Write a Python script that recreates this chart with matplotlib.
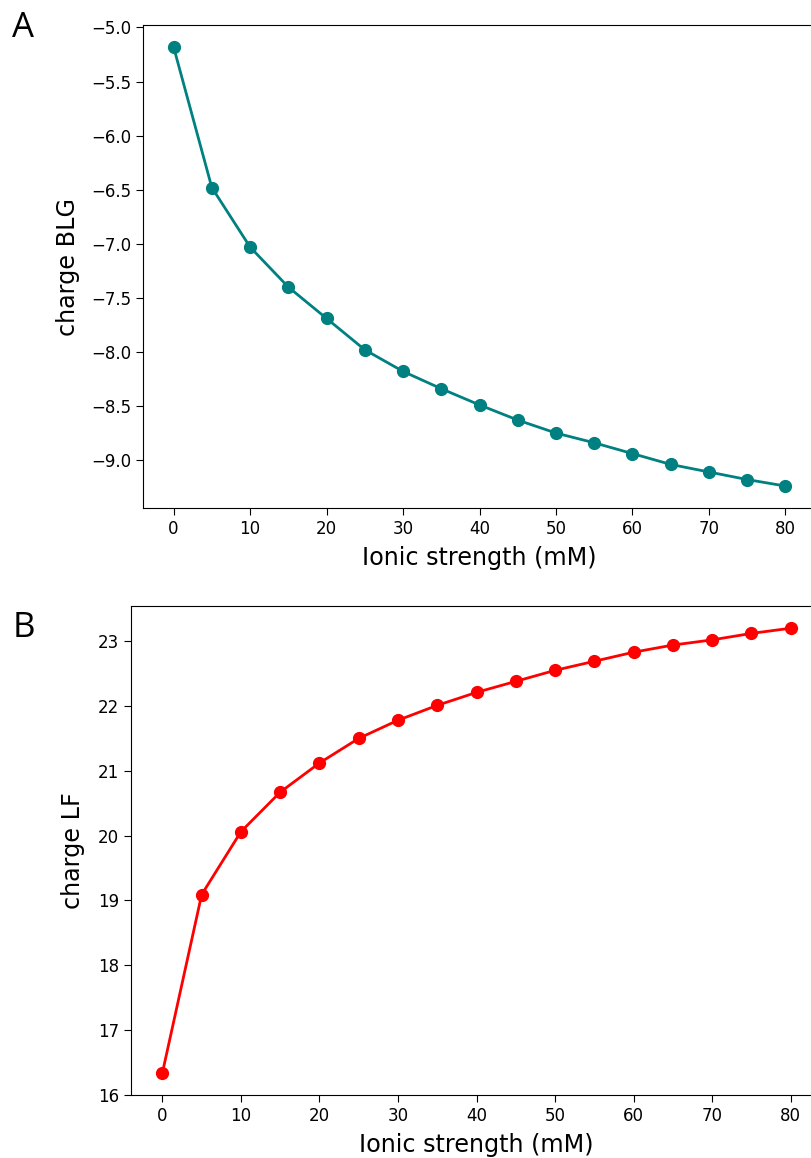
#!/usr/bin/env python3
"""Net charge of BLG and LF vs ionic strength (two stacked panels)."""

import matplotlib

matplotlib.use("Agg")
import matplotlib.pyplot as plt  # noqa: E402

IONIC = [0, 5, 10, 15, 20, 25, 30, 35, 40, 45, 50, 55, 60, 65, 70, 75, 80]
CHARGE_BLG = [-5.18, -6.48, -7.03, -7.40, -7.69, -7.98, -8.18, -8.34, -8.49,
              -8.63, -8.75, -8.84, -8.94, -9.04, -9.11, -9.18, -9.24]
CHARGE_LF = [16.34, 19.09, 20.06, 20.67, 21.12, 21.50, 21.78, 22.01, 22.21,
             22.38, 22.55, 22.69, 22.83, 22.94, 23.02, 23.12, 23.20]

W, H = 811, 1158


def box(left, top, right, bottom):
    return [left / W, (H - bottom) / H, (right - left) / W, (bottom - top) / H]


def main() -> None:
    fig = plt.figure(figsize=(W / 100, H / 100), dpi=100)
    ax_a = fig.add_axes(box(143, 25, 816, 508))
    ax_b = fig.add_axes(box(131, 606, 822, 1095))

    for ax, ys, color, ylabel, ypad in [(ax_a, CHARGE_BLG, "teal", "charge BLG", 8),
                                        (ax_b, CHARGE_LF, "red", "charge LF", 9.5)]:
        ax.plot(IONIC, ys, marker="o", color=color, ms=8.5, lw=2)
        ax.set_xlabel("Ionic strength (mM)", fontsize=17.2, labelpad=6)
        ax.set_ylabel(ylabel, fontsize=17.2, labelpad=ypad)
        ax.tick_params(labelsize=12, length=5)
        ax.set_xticks(range(0, 81, 10))

    fig.text(12 / W, 1 - 37 / H, "A", fontsize=25, family=["Open Sans", "DejaVu Sans"])
    fig.text(13 / W, 1 - 637 / H, "B", fontsize=25, family=["Open Sans", "DejaVu Sans"])
    fig.savefig("out.png", dpi=100)


if __name__ == "__main__":
    main()
